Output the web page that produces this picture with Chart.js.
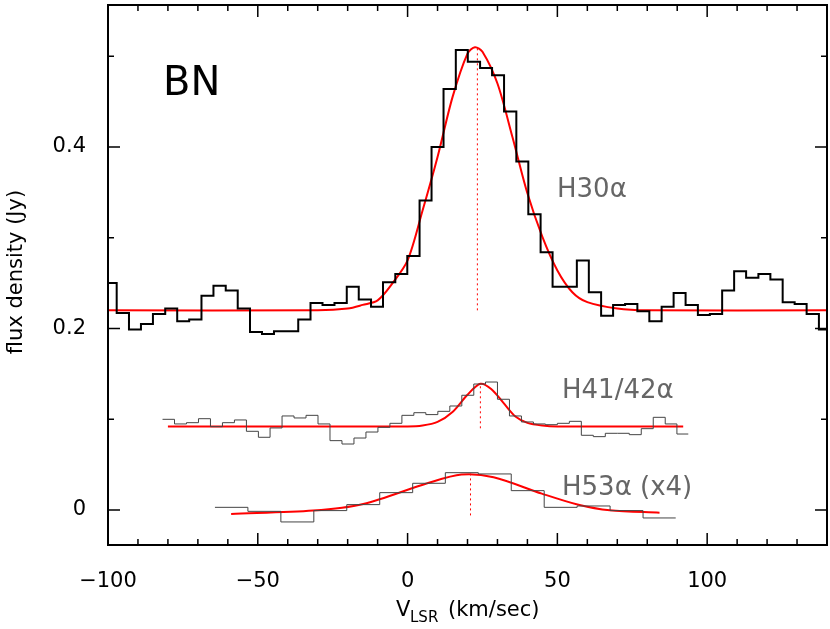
<!DOCTYPE html>
<html><head><meta charset="utf-8">
<script src="https://cdn.jsdelivr.net/npm/chart.js@4/dist/chart.umd.min.js"></script>
<style>html,body{margin:0;padding:0;background:#fff}#c{display:block}</style>
</head><body>
<div style="width:830px;height:629px"><canvas id="c"></canvas></div>
<script>
// H30alpha channel left edges (km/s) and fluxes (Jy)
const h30Edges = [-101.1,-97.1,-93.0,-89.0,-85.0,-80.9,-76.9,-72.9,-68.8,-64.8,-60.7,-56.7,-52.6,-48.6,-44.6,-40.5,-36.5,-32.4,-28.4,-24.4,-20.3,-16.3,-12.2,-8.2,-4.1,-0.1,4.0,8.0,12.0,16.1,20.1,24.2,28.2,32.2,36.3,40.3,44.4,48.4,52.4,56.5,60.5,64.6,68.6,72.6,76.7,80.7,84.8,88.8,92.8,96.9,100.9,105.0,109.0,113.0,117.1,121.1,125.2,129.2,133.2,137.3,141.3];
const h30Flux = [0.250,0.217,0.199,0.205,0.216,0.222,0.208,0.210,0.236,0.247,0.242,0.222,0.196,0.194,0.197,0.197,0.210,0.228,0.226,0.228,0.246,0.232,0.224,0.251,0.260,0.280,0.341,0.400,0.464,0.507,0.494,0.487,0.479,0.439,0.384,0.326,0.284,0.246,0.246,0.275,0.240,0.214,0.226,0.227,0.219,0.208,0.224,0.239,0.226,0.215,0.216,0.242,0.263,0.256,0.260,0.254,0.229,0.227,0.216,0.199,0.189];
const h30FitV = [-100,-30,-20,-15,-10,-5,0,5,10,15,20,22.5,25,30,35,40,45,50,55,60,70,80,140];
const h30FitF = [0.220,0.220,0.222,0.226,0.231,0.250,0.275,0.330,0.389,0.455,0.503,0.510,0.505,0.470,0.411,0.349,0.301,0.264,0.240,0.229,0.222,0.220,0.220];

const h41Edges = [-81.8,-77.8,-73.8,-69.8,-65.8,-61.8,-57.8,-53.8,-49.8,-45.9,-41.9,-37.9,-33.9,-29.9,-25.9,-21.9,-17.9,-13.9,-9.9,-5.9,-1.9,2.1,6.1,10.1,14.1,18.1,22.1,26.0,30.0,34.0,38.0,42.0,46.0,50.0,54.0,58.0,62.0,66.0,70.0,74.0,78.0,82.0,86.0,89.9,93.7];
const h41Flux = [0.0999,0.0948,0.0962,0.1006,0.0918,0.0962,0.0992,0.0867,0.0801,0.0904,0.1036,0.1014,0.1043,0.0948,0.0764,0.0727,0.0793,0.0859,0.0911,0.0955,0.1043,0.1072,0.1051,0.1087,0.1146,0.1264,0.1388,0.1410,0.1220,0.1036,0.0970,0.0948,0.0940,0.0955,0.0977,0.0823,0.0808,0.0845,0.0845,0.0830,0.0896,0.1021,0.0948,0.0837,0.0837];
const h41FitV = [-80,0,5,10,15,20,24.3,28,32,36,40,45,50,92];
const h41FitF = [0.092,0.092,0.093,0.097,0.108,0.127,0.139,0.133,0.118,0.103,0.096,0.093,0.092,0.092];

const h53Edges = [-64.3,-53.3,-42.3,-31.3,-20.3,-9.3,1.7,12.6,23.6,34.6,45.6,56.6,67.6,78.6,89.5];
const h53Flux = [0.0029,-0.0015,-0.0132,-0.0007,0.0059,0.0191,0.0294,0.0411,0.0397,0.0213,0.0029,0.0044,-0.0007,-0.0088,-0.0088];
const h53FitV = [-58.9,-31.5,-14.8,6.6,18.0,28.7,44.8,56.7,67.5,84.1];
const h53FitF = [-0.0044,-0.0007,0.0066,0.0294,0.039,0.036,0.018,0.006,-0.0004,-0.003];

const centerLines = [[23.3,0.220,0.510],[24.3,0.090,0.139],[21.0,-0.006,0.040]];
const xTickLabels = [-100,-50,0,50,100];
const yTickLabels = [0,0.2,0.4];

const pts = (xs, ys) => xs.map((x, i) => ({x, y: ys[i]}));
const ds = [
  {data: pts(h30Edges, h30Flux), stepped: 'before', borderColor: '#000', borderWidth: 2},
  {data: pts(h41Edges, h41Flux), stepped: 'before', borderColor: '#444', borderWidth: 1},
  {data: pts(h53Edges, h53Flux), stepped: 'before', borderColor: '#444', borderWidth: 1},
  {data: pts(h30FitV, h30FitF), borderColor: '#f00', borderWidth: 2, tension: 0.3},
  {data: pts(h41FitV, h41FitF), borderColor: '#f00', borderWidth: 2, tension: 0.3},
  {data: pts(h53FitV, h53FitF), borderColor: '#f00', borderWidth: 2, tension: 0.3},
];
centerLines.forEach(([v, a, b]) => ds.push({data: [{x: v, y: a}, {x: v, y: b}], borderColor: '#f00', borderWidth: 1, borderDash: [2, 3]}));
ds.forEach(d => { d.pointRadius = 0; d.fill = false; });

const font = "'DejaVu Sans', sans-serif";
const deco = {
  id: 'deco',
  afterDraw(chart) {
    const c = chart.ctx, a = chart.chartArea, xs = chart.scales.x, ys = chart.scales.y;
    c.save();
    c.strokeStyle = '#000'; c.lineWidth = 2;
    c.strokeRect(a.left, a.top, a.right - a.left, a.bottom - a.top);
    c.lineWidth = 1.5;
    for (let v = -100; v <= 140; v += 10) {
      const p = xs.getPixelForValue(v), L = v % 50 === 0 ? 12 : 6;
      c.beginPath(); c.moveTo(p, a.bottom); c.lineTo(p, a.bottom - L);
      c.moveTo(p, a.top); c.lineTo(p, a.top + L); c.stroke();
    }
    for (let k = 0; k <= 5; k++) {
      const p = ys.getPixelForValue(k / 10), L = k % 2 === 0 ? 12 : 6;
      c.beginPath(); c.moveTo(a.left, p); c.lineTo(a.left + L, p);
      c.moveTo(a.right, p); c.lineTo(a.right - L, p); c.stroke();
    }
    c.fillStyle = '#000';
    c.font = `40px ${font}`; c.textBaseline = 'alphabetic';
    c.fillText('BN', 163, 95);
    c.fillStyle = '#666'; c.font = `26px ${font}`;
    c.fillText('H30α', 557, 197);
    c.fillText('H41/42α', 562, 398);
    c.fillText('H53α (x4)', 562, 495);
    c.fillStyle = '#000'; c.font = `21px ${font}`;
    c.fillText('V', 396, 616);
    c.font = `15px ${font}`;
    c.fillText('LSR', 410, 622);
    c.font = `21px ${font}`;
    c.fillText('(km/sec)', 448, 616);
    c.translate(22, 272); c.rotate(-Math.PI / 2); c.textAlign = 'center';
    c.fillText('flux density (Jy)', 0, 0);
    c.restore();
  }
};

new Chart(document.getElementById('c'), {
  type: 'line',
  data: {datasets: ds},
  plugins: [deco],
  options: {
    responsive: true, maintainAspectRatio: false, animation: false,
    layout: {padding: {top: 5, right: 3, left: 0, bottom: 0}},
    plugins: {legend: {display: false}, tooltip: {enabled: false}},
    scales: {
      x: {type: 'linear', min: -100, max: 140,
        afterBuildTicks: s => { s.ticks = xTickLabels.map(v => ({value: v})); },
        afterFit: s => { s.height = 84; s.paddingLeft = 0; s.paddingRight = 0; },
        grid: {display: false}, border: {display: false},
        ticks: {color: '#000', font: {size: 21, family: font}, padding: 16, maxRotation: 0,
          callback: v => String(v).replace('-', '\u2212')}},
      y: {type: 'linear', min: -0.0386, max: 0.5565,
        afterBuildTicks: s => { s.ticks = yTickLabels.map(v => ({value: v})); },
        afterFit: s => { s.width = 108; s.paddingTop = 0; s.paddingBottom = 0; },
        grid: {display: false}, border: {display: false},
        ticks: {color: '#000', font: {size: 21, family: font}, padding: 14,
          callback: v => String(v)}}
    }
  }
});
</script>
</body></html>
